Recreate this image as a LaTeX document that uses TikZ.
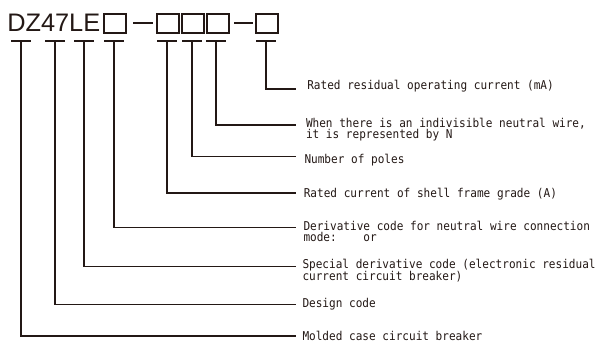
\documentclass[tikz,border=0pt]{standalone}
\usepackage{fontspec}
\setmainfont{Liberation Sans}
\newfontfamily\lblfont{DejaVu Sans Mono}
\definecolor{ink}{RGB}{35,24,21}
\newcommand{\tallt}[1]{\scalebox{1}[1.1]{#1}}
\begin{document}
\begin{tikzpicture}[x=0.75pt,y=-0.75pt,
  lbl/.style={anchor=base west, inner sep=0pt, outer sep=0pt, text=ink,
    font=\lblfont\fontsize{8.3}{7.6}\selectfont},
  codebox/.style={draw=ink, line width=1.1pt, rectangle, inner sep=0pt,
    minimum width=16.5pt, minimum height=14.25pt},
  bar/.style={draw=ink, line width=1.3pt},
  lead/.style={draw=ink, line width=1.1pt}]
\useasboundingbox (0,0) rectangle (597,345);

% header
\node[anchor=base west, inner sep=0pt, text=ink,
  font=\fontsize{19}{20}\selectfont] (dz) at (7,31.7) {DZ47LE};
\node[codebox] (b1) at (115,23.5) {};
\node[codebox] (b2) at (168,23.5) {};
\node[codebox] (b3) at (193,23.5) {};
\node[codebox] (b4) at (218,23.5) {};
\node[codebox] (b5) at (267,23.5) {};
\draw[bar] (133,23.3) -- (153,23.3);
\draw[bar] (234,23.3) -- (253,23.3);

% T-bar tops
\foreach \n/\x in {1/21,2/55,3/84,4/114,5/167,6/192,7/216,8/266}{
  \coordinate (t\n) at (\x,41);
  \draw[bar] (\x-10,41) -- (\x+10,41);
}

% leader ends
\coordinate (e8) at (296,89);
\coordinate (e7) at (296,125);
\coordinate (e6) at (296,156.5);
\coordinate (e5) at (296,193);
\coordinate (e4) at (296,227.5);
\coordinate (e3) at (296,266.5);
\coordinate (e2) at (296,304.5);
\coordinate (e1) at (296,336);

% labels
\node[lbl] (l8) at (307.3,90) {\tallt{Rated residual operating current (mA)}};
\node[lbl] (l7) at (306,127.3) {\tallt{\vtop{\lineskiplimit=-10pt\hbox{When there is an indivisible neutral wire,}\hbox{it is represented by N}}}};
\node[lbl] (l6) at (304.5,163.3) {\tallt{Number of poles}};
\node[lbl] (l5) at (303.8,197.3) {\tallt{Rated current of shell frame grade (A)}};
\node[lbl] (l4) at (303.5,230.7) {\tallt{\vtop{\lineskiplimit=-10pt\hbox{Derivative code for neutral wire connection}\hbox{mode:\ \ \ \ or}}}};
\node[lbl] (l3) at (302.5,269) {\tallt{\vtop{\lineskiplimit=-10pt\hbox{Special derivative code (electronic residual}\hbox{current circuit breaker)}}}};
\node[lbl] (l2) at (302.5,307.7) {\tallt{Design code}};
\node[lbl] (l1) at (302.5,341) {\tallt{Molded case circuit breaker}};

% connectors
\foreach \n in {1,...,8}{
  \draw[lead] (t\n) |- (e\n);
}
\end{tikzpicture}
\end{document}
